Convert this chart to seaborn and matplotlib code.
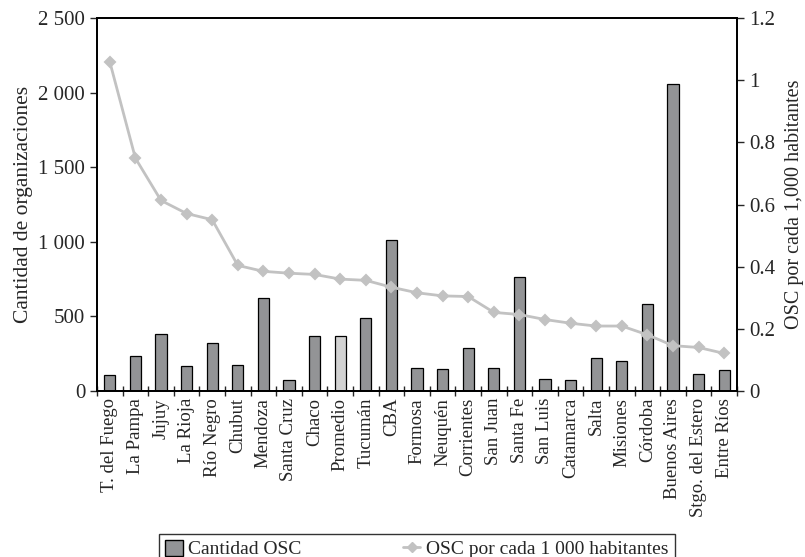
import matplotlib
matplotlib.use("Agg")
import matplotlib.pyplot as plt
import seaborn as sns
from matplotlib.patches import Patch
from matplotlib.lines import Line2D
from matplotlib.ticker import FuncFormatter, FixedLocator

# Datos
provincias = ["T. del Fuego", "La Pampa", "Jujuy", "La Rioja", "Río Negro", "Chubut",
              "Mendoza", "Santa Cruz", "Chaco", "Promedio", "Tucumán", "CBA", "Formosa",
              "Neuquén", "Corrientes", "San Juan", "Santa Fe", "San Luis", "Catamarca",
              "Salta", "Misiones", "Córdoba", "Buenos Aires", "Stgo. del Estero", "Entre Ríos"]
cantidad_osc = [106, 234, 380, 166, 319, 175, 625, 74, 371, 371, 487, 1015, 157,
                150, 285, 157, 766, 83, 74, 224, 202, 581, 2060, 117, 141]
osc_por_mil = [1.059, 0.749, 0.613, 0.571, 0.551, 0.404, 0.385, 0.379, 0.375, 0.360,
               0.356, 0.334, 0.316, 0.306, 0.304, 0.253, 0.246, 0.230, 0.218, 0.209,
               0.209, 0.181, 0.146, 0.140, 0.121]

sns.set_style("ticks")
plt.rcParams["font.family"] = ["Liberation Serif", "DejaVu Serif"]

gris = "#939497"
colores = {p: ("#d2d2d2" if p == "Promedio" else gris) for p in provincias}

fig = plt.figure(figsize=(8.05, 5.57), dpi=100)
ax = fig.add_axes([0.1205, 0.298, 0.795, 0.6697])

# Barras: cantidad de OSC
sns.barplot(x=provincias, y=cantidad_osc, hue=provincias, palette=colores, legend=False,
            width=0.44, edgecolor="black", linewidth=0.9, ax=ax)

# Línea: OSC por cada 1 000 habitantes (eje derecho)
ax2 = ax.twinx()
sns.pointplot(x=provincias, y=osc_por_mil, color="#c2c2c2", markers="D", markersize=5,
              linewidth=2, ax=ax2)

ax.set_xlim(-0.5, len(provincias) - 0.5)
ax.set_ylim(0, 2500)
ax2.set_ylim(0, 1.2)

ax.set_yticks([0, 500, 1000, 1500, 2000, 2500])
ax.yaxis.set_major_formatter(FuncFormatter(lambda v, p: f"{int(v):,}".replace(",", " ")))
ax2.set_yticks([0, 0.2, 0.4, 0.6, 0.8, 1.0, 1.2])
ax2.yaxis.set_major_formatter(FuncFormatter(lambda v, p: f"{v:g}"))

ax.set_xticks(range(len(provincias)))
ax.set_xticklabels(provincias, rotation=90, fontsize=13.5)
ax.tick_params(axis="x", which="major", length=0, pad=5)
ax.xaxis.set_minor_locator(FixedLocator([i - 0.5 for i in range(len(provincias) + 1)]))
ax.tick_params(axis="x", which="minor", direction="inout", length=7, width=1)
ax.tick_params(axis="y", labelsize=15, length=5, width=1)
ax2.tick_params(axis="y", labelsize=15, length=5, width=1)
ax2.set_xlabel("")

ax.set_ylabel("Cantidad de organizaciones", fontsize=15.5, labelpad=4)
ax2.set_ylabel("OSC por cada 1,000 habitantes", fontsize=14.5, labelpad=7)

for a in (ax, ax2):
    for s in a.spines.values():
        s.set_linewidth(1.3)
        s.set_color("black")

handles = [Patch(facecolor=gris, edgecolor="black", label="Cantidad OSC"),
           Line2D([0], [0], color="#c2c2c2", lw=2, marker="D", markersize=5,
                  label="OSC por cada 1 000 habitantes")]
leg = fig.legend(handles=handles, loc="upper center", bbox_to_anchor=(0.518, 0.059), ncol=2,
                 fontsize=14, frameon=True, fancybox=False, edgecolor="black",
                 handlelength=0.9, handleheight=0.9, handletextpad=0.3,
                 columnspacing=5.2, borderpad=0.3)
leg.get_frame().set_linewidth(1)

fig.savefig("out.png", dpi=100)
